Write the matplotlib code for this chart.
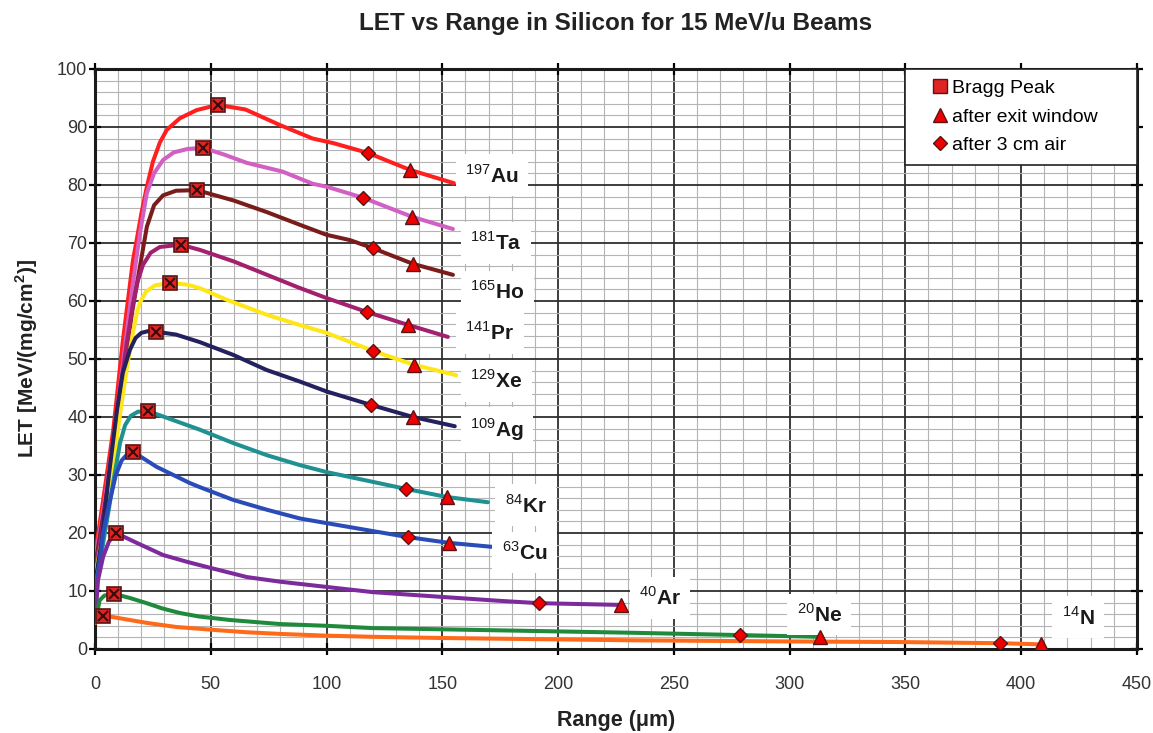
import numpy as np
import matplotlib.pyplot as plt
from matplotlib.lines import Line2D
from matplotlib.ticker import MultipleLocator

plt.rcParams['font.family'] = ['Liberation Sans', 'DejaVu Sans']
plt.rcParams['mathtext.fontset'] = 'custom'
plt.rcParams['mathtext.rm'] = 'Liberation Sans'
plt.rcParams['mathtext.bf'] = 'Liberation Sans:bold'

# ion labels (mass number, symbol) and line colours
ions = ['Au', 'Ta', 'Ho', 'Pr', 'Xe', 'Ag', 'Kr', 'Cu', 'Ar', 'Ne', 'N']
masses = ['197', '181', '165', '141', '129', '109', '84', '63', '40', '20', '14']
colors = ['#ff1f1f', '#d25fc4', '#7a1c1c', '#a3206e', '#ffe619', '#23225e',
          '#1f9191', '#2a4cb8', '#7d2a9c', '#1f8a3c', '#ff6a1a']

# curves: range (um) and LET (MeV/(mg/cm2))
au_x = [0.3, 4, 7.9, 12, 16.4, 18, 20, 22.3, 25, 28, 31, 36.7, 43.9, 53, 65, 80, 94, 103, 118, 136, 155]
au_y = [17, 27, 37.8, 53, 67, 70.5, 75, 79.5, 84, 87.3, 89.5, 91.5, 92.9, 93.8, 93, 90.3, 88, 87.2, 85.5, 82.6, 80.3]
ta_x = [0.3, 4, 8, 12, 16, 19.4, 22.4, 25.5, 29.4, 34, 40, 46.6, 56, 65.6, 81, 94, 100, 115.7, 137, 154.6]
ta_y = [16, 25, 36, 49, 62, 71.7, 78.6, 82, 84.3, 85.6, 86.2, 86.4, 85.2, 83.8, 82.3, 80.2, 79.7, 77.8, 74.5, 72.4]
ho_x = [0.3, 4, 8, 12, 16, 19, 22.4, 25.5, 29.4, 35, 44, 60, 74.3, 88, 100, 110, 120, 137.3, 154.6]
ho_y = [15, 24, 35, 47, 58, 65, 72.8, 76.5, 78.2, 79, 79.1, 77.3, 75.3, 73.2, 71.4, 70.5, 69.1, 66.4, 64.5]
pr_x = [0.3, 4, 8, 11, 13.8, 16.4, 18.5, 20.7, 24, 28, 37, 45.3, 60, 74.3, 88, 100, 117.4, 135, 152.4]
pr_y = [14, 23, 34, 45, 53, 59.5, 63.5, 66.2, 68.3, 69.3, 69.7, 68.8, 66.8, 64.5, 62.3, 60.5, 58.1, 55.9, 53.8]
xe_x = [0.3, 4, 8, 11, 13.8, 16.4, 18, 19.4, 22, 26, 32.4, 40, 45.3, 56.9, 74.3, 88, 100, 120, 137.7, 156]
xe_y = [13, 21, 32, 41, 48.5, 54.5, 57.8, 59.7, 61.6, 62.7, 63.1, 62.8, 62.2, 60.2, 57.6, 55.9, 54.5, 51.4, 49, 47.2]
ag_x = [0.3, 3, 6, 9.5, 12, 15.1, 17.5, 20, 23, 26.3, 35, 45.3, 59.7, 74.1, 88.5, 100, 119, 137.3, 155.4]
ag_y = [12, 19, 30, 41.2, 47.6, 51.6, 53.6, 54.5, 54.8, 54.7, 54.2, 52.9, 50.7, 48.1, 46.1, 44.4, 42.1, 40, 38.4]
kr_x = [0.3, 3, 5.5, 7.8, 10.8, 13, 15.5, 18.5, 22.9, 30, 45.3, 59.7, 74.3, 88.5, 100, 134.3, 152, 169.7]
kr_y = [11, 17, 23, 28.6, 35.5, 38.6, 40.2, 40.9, 41, 40, 37.8, 35.5, 33.4, 31.7, 30.5, 27.6, 26.2, 25.3]
cu_x = [0.3, 2, 3.5, 6.5, 9, 11.5, 14, 16.4, 26.6, 41, 45.3, 59.7, 74.3, 88.5, 100, 135, 152.8, 171.8]
cu_y = [10, 15, 20, 25.7, 30, 32.5, 33.6, 34, 31.4, 28.6, 27.9, 25.7, 24, 22.5, 21.7, 19.3, 18.3, 17.6]
ar_x = [0.3, 1.3, 3.5, 6, 9, 18, 29.4, 40, 49.7, 65.6, 80, 100, 120, 149, 174.9, 191.7, 227]
ar_y = [6, 11.9, 15.9, 18.5, 20, 18.3, 16.2, 15, 14, 12.4, 11.6, 10.7, 9.8, 9.0, 8.3, 7.9, 7.6]
ne_x = [0.3, 2, 4, 8.2, 15, 22.3, 29, 36.7, 45, 58.3, 80, 100, 120, 149, 232, 278.5, 313]
ne_y = [5, 8.4, 9.2, 9.5, 8.8, 7.9, 7.0, 6.2, 5.6, 5.0, 4.3, 4.0, 3.6, 3.4, 2.8, 2.4, 2.1]
n_x = [0.3, 2, 3.5, 7.8, 15, 22.4, 35, 51, 65, 80, 100, 120, 149, 232, 300, 347, 391, 408.5]
n_y = [4.5, 5.4, 5.7, 5.5, 5.0, 4.5, 3.8, 3.3, 2.9, 2.6, 2.3, 2.1, 1.9, 1.5, 1.3, 1.2, 1.0, 0.8]

curves_x = [au_x, ta_x, ho_x, pr_x, xe_x, ag_x, kr_x, cu_x, ar_x, ne_x, n_x]
curves_y = [au_y, ta_y, ho_y, pr_y, xe_y, ag_y, kr_y, cu_y, ar_y, ne_y, n_y]

# marker points
bragg_x = [53, 46.6, 44, 37, 32.4, 26.3, 22.9, 16.4, 9, 8.2, 3.5]
bragg_y = [93.8, 86.4, 79.1, 69.7, 63.1, 54.7, 41, 34, 20, 9.5, 5.7]
exit_x = [136, 137, 137.3, 135, 137.7, 137.3, 152, 152.8, 227, 313, 408.5]
exit_y = [82.6, 74.5, 66.4, 55.9, 49, 40, 26.2, 18.3, 7.6, 2.1, 0.8]
air_x = [118, 115.7, 120, 117.4, 120, 119, 134.3, 135, 191.7, 278.5, 391]
air_y = [85.5, 77.8, 69.1, 58.1, 51.4, 42.1, 27.6, 19.3, 7.9, 2.4, 1.0]

# label anchor (left edge, vertical centre) in data units
lab_x = [160, 162, 162, 160, 162, 162, 177, 175.7, 235, 303, 417.5]
lab_y = [81.7, 70, 61.6, 54.5, 46.2, 37.8, 24.8, 16.6, 8.8, 6, 5.5]

fig = plt.figure(figsize=(11.53, 7.33), dpi=100)
ax = fig.add_axes([0.0824, 0.1146, 0.9036, 0.7914])

for i in range(len(ions)):
    ax.plot(curves_x[i], curves_y[i], color=colors[i], lw=2.9, zorder=3,
            solid_capstyle='round', solid_joinstyle='round')

mk = dict(linestyle='none', zorder=5)
ax.plot(bragg_x, bragg_y, marker='s', ms=10, mfc='#e02424', mec='#5a1414', mew=1.2, **mk)
ax.plot(bragg_x, bragg_y, marker='x', ms=7, mec='#3a0c0c', mew=1.5, **mk)
ax.plot(exit_x, exit_y, marker='^', ms=10, mfc='#ee0000', mec='#5a1414', mew=1.0, **mk)
ax.plot(air_x, air_y, marker='D', ms=7, mfc='#ee0000', mec='#5a1414', mew=1.0, **mk)

for i in range(len(ions)):
    ax.text(lab_x[i], lab_y[i], r'$^{%s}$%s' % (masses[i], ions[i]),
            fontsize=15, fontweight='bold', color='#1a1a1a', va='center', ha='left',
            zorder=4, bbox=dict(boxstyle='square,pad=0.45', fc='white', ec='none'))

ax.set_xlim(0, 450)
ax.set_ylim(0, 100)
ax.xaxis.set_major_locator(MultipleLocator(50))
ax.xaxis.set_minor_locator(MultipleLocator(10))
ax.yaxis.set_major_locator(MultipleLocator(10))
ax.yaxis.set_minor_locator(MultipleLocator(2))
ax.grid(which='major', color='#2e2e2e', lw=1.3, zorder=1)
ax.grid(which='minor', color='#b4b4b4', lw=0.8, zorder=0)
ax.set_axisbelow(True)
for s in ax.spines.values():
    s.set_linewidth(2.2)
    s.set_color('#1a1a1a')
ax.tick_params(which='major', direction='inout', length=9, width=1.6, labelsize=13,
               labelcolor='#333333', top=True, right=True)
ax.tick_params(axis='x', which='major', pad=15)
ax.tick_params(axis='y', which='major', pad=1)
ax.tick_params(which='minor', length=0)

ax.set_title('LET vs Range in Silicon for 15 MeV/u Beams', fontsize=17.5,
             fontweight='bold', color='#222222', pad=28)
ax.set_xlabel('Range (μm)', fontsize=15.5, fontweight='bold', color='#222222', labelpad=12)
ax.set_ylabel(r'LET [MeV/(mg/cm$^{\mathbf{2}}$)]', fontsize=15, fontweight='bold',
              color='#222222', labelpad=12)

handles = [
    Line2D([], [], ls='none', marker='s', ms=10, mfc='#e02424', mec='#5a1414'),
    Line2D([], [], ls='none', marker='^', ms=10, mfc='#ee0000', mec='#5a1414'),
    Line2D([], [], ls='none', marker='D', ms=7, mfc='#ee0000', mec='#5a1414'),
]
leg = ax.legend(handles, ['Bragg Peak', 'after exit window', 'after 3 cm air'],
                loc='upper left', bbox_to_anchor=(0.7773, 1.0, 0.2227, 0), mode='expand',
                borderaxespad=0, fontsize=14, handletextpad=-0.6, handlelength=2.5,
                borderpad=0.55, labelspacing=0.55, fancybox=False, framealpha=1,
                edgecolor='#222222')
leg.get_frame().set_linewidth(1.2)
leg.set_zorder(6)

fig.savefig('out.png', dpi=100)
